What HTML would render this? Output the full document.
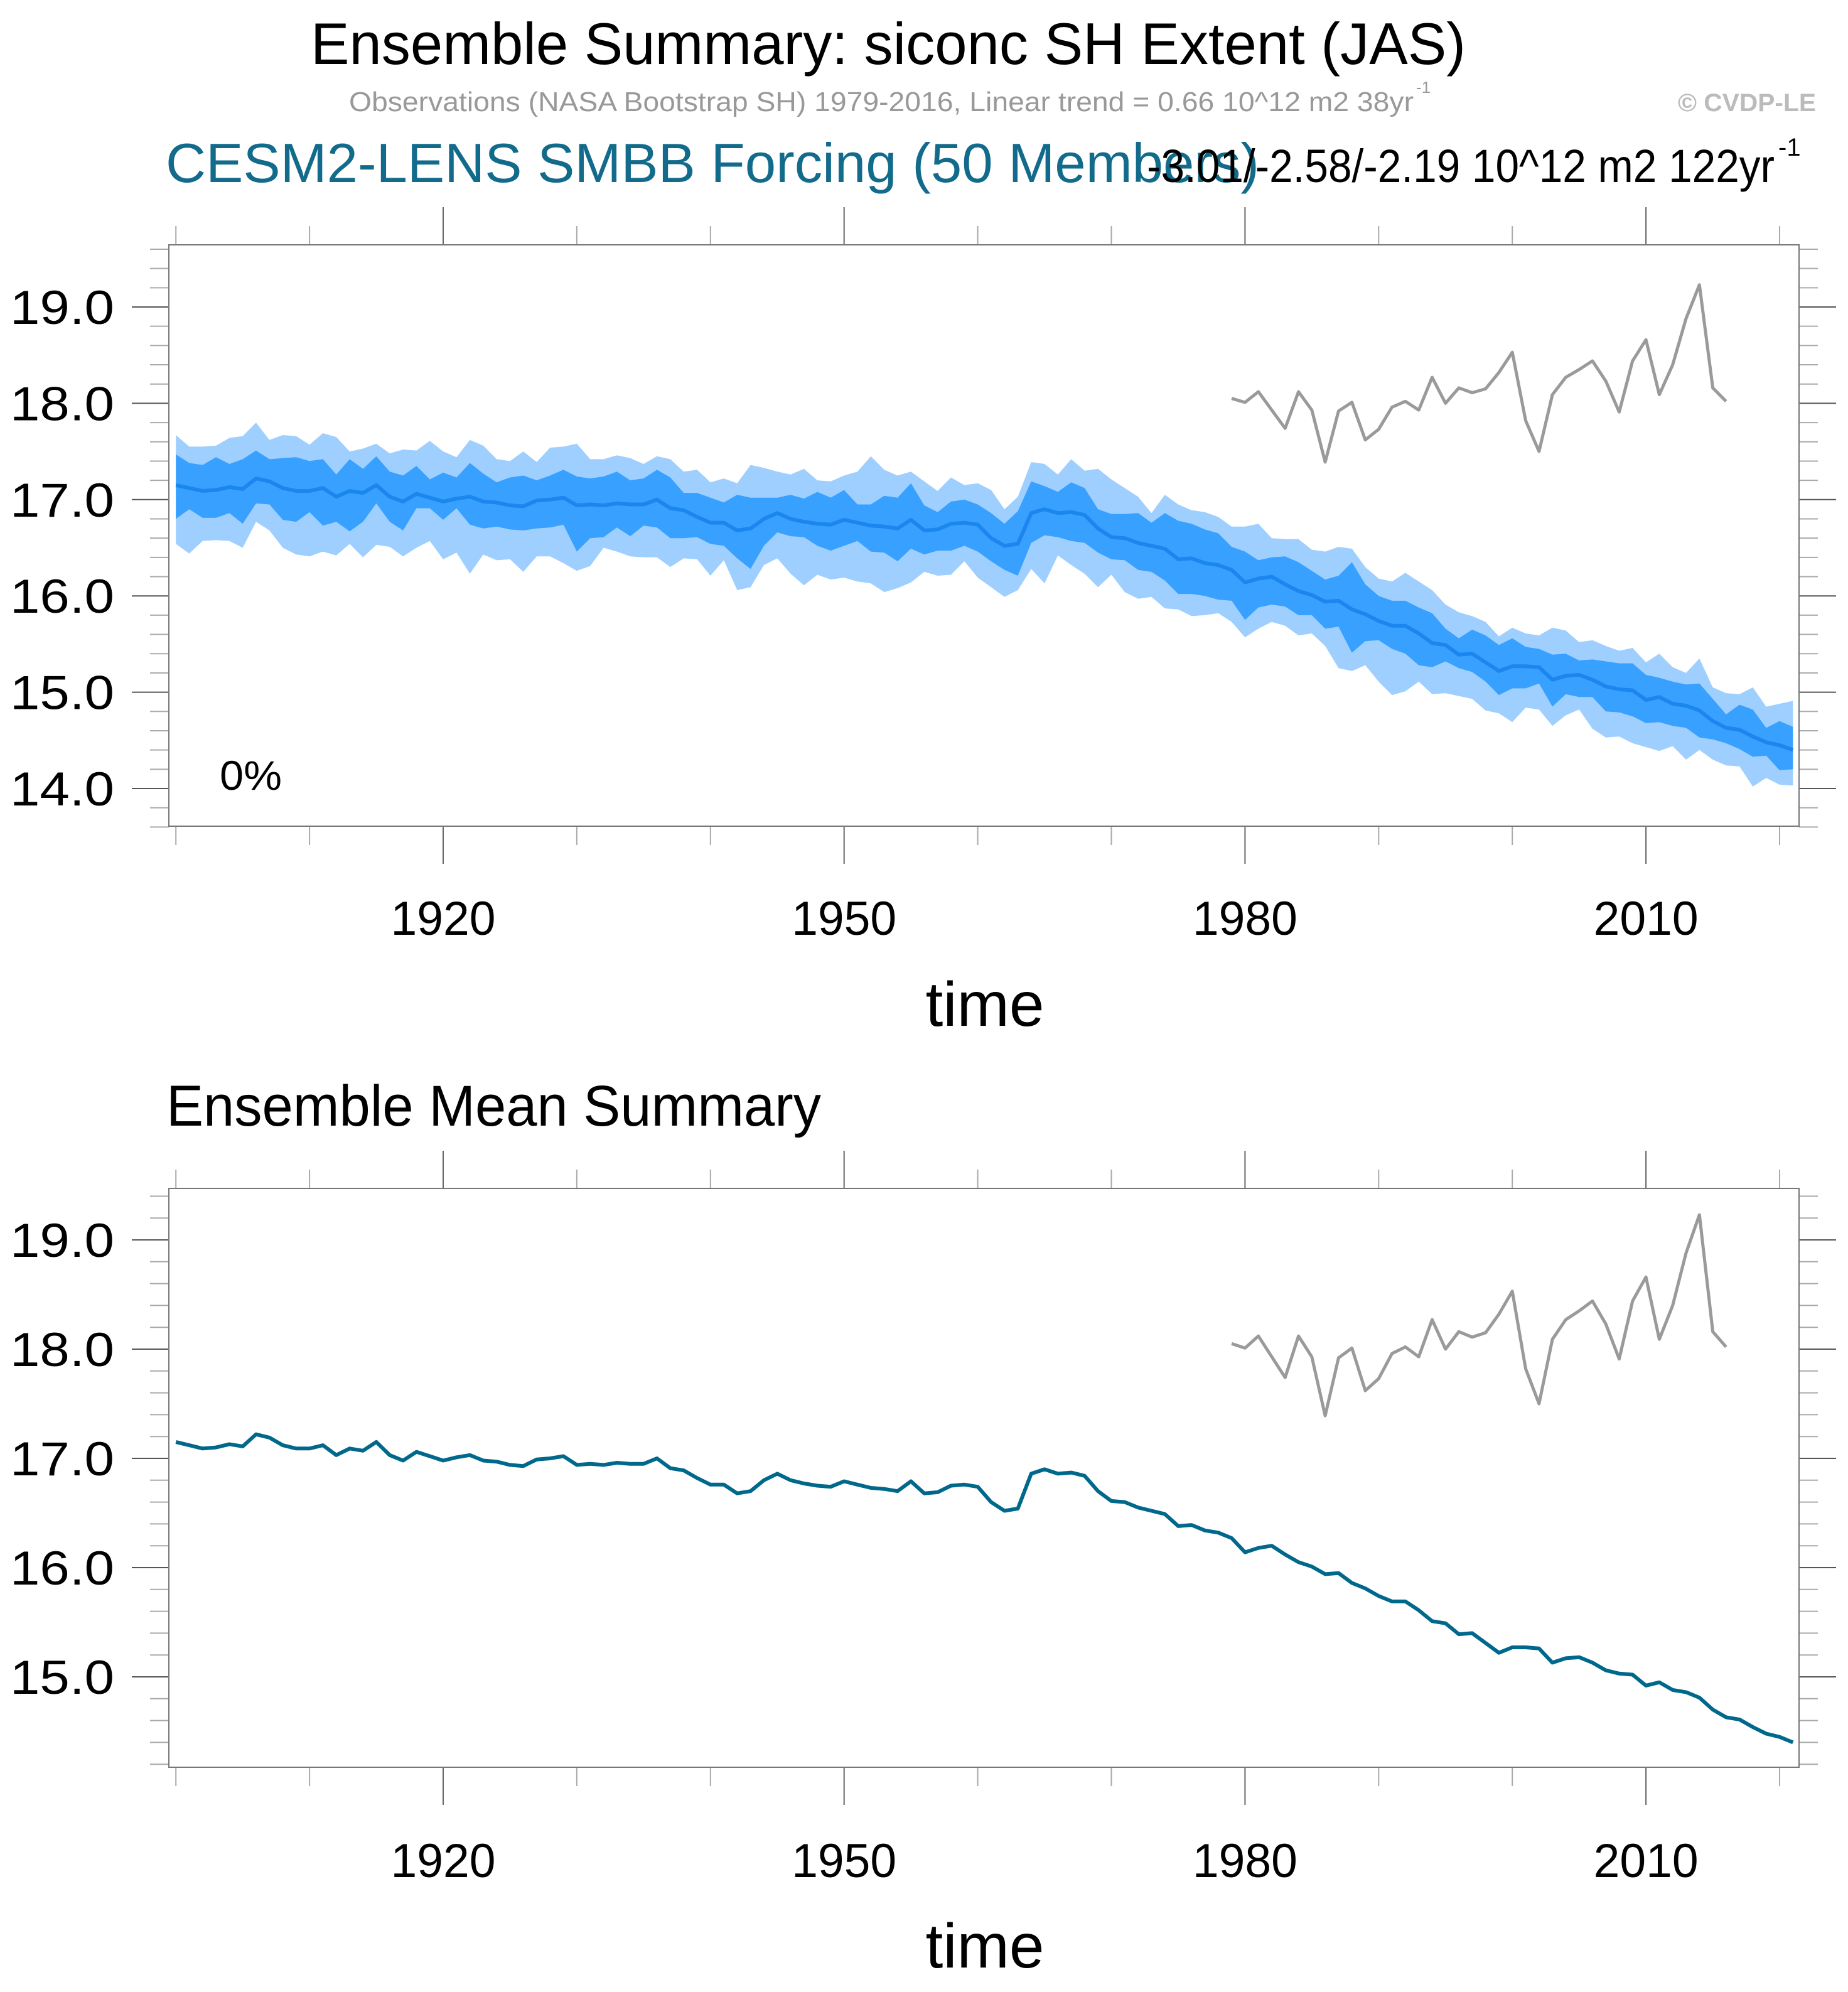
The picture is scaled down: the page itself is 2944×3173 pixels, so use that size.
<!DOCTYPE html>
<html><head><meta charset="utf-8"><style>
html,body{margin:0;padding:0;background:#fff}
svg{display:block}
text{font-family:"Liberation Sans",Arial,sans-serif}
</style></head><body>
<svg id="chart" width="2944" height="3173" viewBox="0 0 2944 3173" xmlns="http://www.w3.org/2000/svg">
<rect x="0" y="0" width="2944" height="3173" fill="#fff"/>
<text x="495" y="102" font-size="94" textLength="1840" lengthAdjust="spacingAndGlyphs" fill="#000">Ensemble Summary: siconc SH Extent (JAS)</text>
<text x="556" y="177" font-size="44" textLength="1696" lengthAdjust="spacingAndGlyphs" fill="#999">Observations (NASA Bootstrap SH) 1979-2016, Linear trend = 0.66 10^12 m2 38yr</text>
<text x="2256" y="148" font-size="26" fill="#999">-1</text>
<text x="2673" y="177" font-size="40" font-weight="bold" textLength="220" lengthAdjust="spacingAndGlyphs" fill="#bbb">© CVDP-LE</text>
<text x="264" y="290" font-size="88" textLength="1742" lengthAdjust="spacingAndGlyphs" fill="#136b8c">CESM2-LENS SMBB Forcing (50 Members)</text>
<text x="1827" y="290" font-size="74" textLength="1000" lengthAdjust="spacingAndGlyphs" fill="#000">-3.01/-2.58/-2.19 10^12 m2 122yr</text>
<text x="2833" y="248" font-size="40" fill="#000">-1</text>
<text x="350" y="1258" font-size="66" textLength="99" lengthAdjust="spacingAndGlyphs" fill="#000">0%</text>
<text x="265" y="1793" font-size="92" textLength="1043" lengthAdjust="spacingAndGlyphs" fill="#000">Ensemble Mean Summary</text>
<text x="1569" y="1634" font-size="100" text-anchor="middle" fill="#000">time</text>
<text x="1569" y="3134" font-size="100" text-anchor="middle" fill="#000">time</text>
<g id="top"></g>
<g id="bot"></g>
</svg>
<script>
const years = []; for (let y = 1900; y <= 2021; y++) years.push(y);
const ensMean = [17.15,17.12,17.09,17.10,17.13,17.11,17.22,17.19,17.12,17.09,
17.09,17.12,17.03,17.09,17.07,17.15,17.03,16.98,17.06,17.02,
16.98,17.01,17.03,16.98,16.97,16.94,16.93,16.99,17.00,17.02,
16.94,16.95,16.94,16.96,16.95,16.95,17.00,16.91,16.89,16.82,
16.76,16.76,16.68,16.70,16.80,16.86,16.80,16.77,16.75,16.74,
16.79,16.76,16.73,16.72,16.70,16.79,16.68,16.69,16.75,16.76,
16.74,16.60,16.52,16.54,16.86,16.90,16.86,16.87,16.84,16.70,
16.61,16.60,16.55,16.52,16.49,16.38,16.39,16.34,16.32,16.27,
16.14,16.18,16.20,16.12,16.05,16.01,15.94,15.95,15.86,15.81,
15.74,15.69,15.69,15.61,15.51,15.49,15.39,15.40,15.31,15.22,
15.27,15.27,15.26,15.13,15.17,15.18,15.13,15.06,15.03,15.02,
14.92,14.95,14.88,14.86,14.81,14.70,14.63,14.61,14.54,14.48,
14.45,14.40];
const bandMax = [17.67,17.55,17.55,17.56,17.64,17.66,17.80,17.62,17.67,17.66,
17.57,17.69,17.65,17.50,17.53,17.58,17.48,17.52,17.51,17.61,
17.50,17.44,17.62,17.56,17.42,17.40,17.50,17.39,17.54,17.55,
17.58,17.42,17.42,17.46,
17.43,17.37,17.45,17.42,17.29,17.31,17.18,17.22,17.17,17.36,
17.33,17.29,17.26,17.32,17.20,17.19,17.25,17.29,17.45,17.31,
17.25,17.29,17.19,17.09,17.23,17.15,17.17,17.10,16.90,17.03,
17.39,17.37,17.26,17.42,17.30,17.32,17.21,17.12,17.03,16.86,
17.05,16.95,16.89,
16.87,16.82,16.72,16.72,16.75,16.60,16.59,16.59,16.48,16.46,
16.51,16.49,16.30,16.18,16.15,16.24,16.15,16.06,15.91,15.83,
15.79,15.73,15.58,15.67,15.61,15.59,15.67,15.64,15.52,15.54,
15.48,15.43,15.46,15.31,15.40,15.26,15.20,15.35,15.05,14.99,
14.98,15.05,14.85,14.88,14.91];
const bandHi = [17.47,17.38,17.36,17.44,17.37,17.42,17.51,17.42,17.43,17.44,
17.40,17.42,17.26,17.42,17.32,17.45,17.29,17.25,17.35,17.21,
17.28,17.23,17.38,17.27,17.18,17.23,17.25,17.20,17.25,17.31,
17.24,17.22,17.24,17.29,
17.20,17.22,17.31,17.23,17.07,17.07,17.02,16.97,17.05,17.02,
17.02,17.02,17.05,17.01,17.08,17.02,17.10,16.95,16.95,17.04,
17.02,17.17,16.94,16.87,16.98,17.00,16.95,16.86,16.75,16.88,
17.19,17.14,17.08,17.18,17.12,16.90,16.85,16.85,16.86,16.76,
16.86,16.78,16.75,
16.69,16.65,16.51,16.46,16.37,16.40,16.41,16.35,16.26,16.17,
16.21,16.35,16.12,16.00,15.95,15.95,15.88,15.82,15.66,15.56,
15.65,15.59,15.49,15.56,15.47,15.45,15.39,15.40,15.33,15.34,
15.32,15.30,15.30,15.18,15.15,15.11,15.08,15.09,14.93,14.77,
14.87,14.82,14.63,14.70,14.64];
const bandLo = [16.80,16.90,16.81,16.81,16.86,16.75,16.96,16.95,16.79,16.77,
16.87,16.73,16.77,16.67,16.77,16.96,16.77,16.68,16.91,16.91,
16.79,16.91,16.74,16.70,16.72,16.69,16.68,16.70,16.71,16.74,
16.46,16.60,16.61,16.71,
16.62,16.73,16.71,16.60,16.60,16.61,16.54,16.52,16.39,16.28,
16.52,16.66,16.62,16.61,16.52,16.47,16.52,16.57,16.46,16.45,
16.36,16.49,16.43,16.47,16.47,16.52,16.46,16.36,16.27,16.21,
16.55,16.63,16.61,16.57,16.55,16.45,16.38,16.37,16.27,16.25,
16.16,16.02,16.02,
16.00,15.96,15.95,15.75,15.88,15.91,15.89,15.80,15.80,15.66,
15.68,15.41,15.53,15.54,15.45,15.40,15.28,15.26,15.32,15.25,
15.21,15.11,14.97,15.04,15.04,15.09,14.85,14.98,14.95,14.95,
14.80,14.79,14.75,14.68,14.69,14.65,14.63,14.53,14.51,14.47,
14.41,14.33,14.34,14.19,14.20];
const bandMin = [16.54,16.44,16.57,16.58,16.57,16.50,16.77,16.68,16.50,16.43,
16.41,16.46,16.42,16.54,16.40,16.53,16.51,16.41,16.50,16.57,
16.38,16.45,16.23,16.43,16.37,16.38,16.25,16.41,16.41,16.34,
16.26,16.31,16.50,16.46,
16.41,16.40,16.40,16.30,16.39,16.38,16.21,16.37,16.06,16.09,
16.32,16.39,16.23,16.11,16.22,16.17,16.19,16.15,16.13,16.04,
16.08,16.14,16.25,16.21,16.22,16.36,16.19,16.09,15.99,16.06,
16.28,16.13,16.42,16.32,16.23,16.09,16.22,16.04,15.97,15.99,
15.87,15.86,15.79,
15.80,15.82,15.73,15.57,15.66,15.73,15.69,15.59,15.61,15.48,
15.25,15.22,15.28,15.11,14.97,15.01,15.11,14.98,14.99,14.96,
14.93,14.81,14.78,14.69,14.84,14.82,14.65,14.76,14.82,14.62,
14.53,14.54,14.47,14.43,14.39,14.44,14.30,14.40,14.30,14.24,
14.23,14.02,14.11,14.04,14.03];
const obsYears = []; for (let y = 1979; y <= 2016; y++) obsYears.push(y);
const obsVals = [18.05,18.01,18.12,17.93,17.74,18.12,17.93,17.39,17.92,18.01,
17.62,17.73,17.96,18.02,17.93,18.27,18.00,18.16,18.11,18.15,
18.32,18.53,17.82,17.50,18.09,18.27,18.35,18.44,18.23,17.91,
18.44,18.66,18.09,18.40,18.88,19.23,18.16,18.02];
const xMajorTicks = [1920,1950,1980,2010];
const xMinorTicks = [1900,1910,1920,1930,1940,1950,1960,1970,1980,1990,2000,2010,2020];
const topYLabels = ["14.0","15.0","16.0","17.0","18.0","19.0"];
const botYLabels = ["15.0","16.0","17.0","18.0","19.0"];

const NS = "http://www.w3.org/2000/svg";
function xs(yr){ return 706 + (yr - 1920) * 21.29; }
function mk(parent, tag, attrs){ const e = document.createElementNS(NS, tag); for (const k in attrs) e.setAttribute(k, attrs[k]); parent.appendChild(e); return e; }
function pts(xArr, vArr, ys){ return xArr.map((x,i)=> xs(x).toFixed(1)+","+ys(vArr[i]).toFixed(1)).join(" "); }
function bandPts(hi, lo, ys){ const a = years.map((x,i)=> xs(x).toFixed(1)+","+ys(hi[i]).toFixed(1)); const b = years.map((x,i)=> xs(x).toFixed(1)+","+ys(lo[i]).toFixed(1)).reverse(); return a.concat(b).join(" "); }

function axes(g, P, ys, yMinT, yMaxT, labels, prefix){
  const L=P.l, R=P.r, T=P.t, B=P.b;
  // y ticks
  for (let k = Math.round(yMinT*5); k <= Math.round(yMaxT*5); k++){
    const v = k/5, y = ys(v), major = (k % 5 === 0);
    const len = major ? 59 : 30, col = major ? "#555" : "#aaa";
    const t1 = mk(g,"line",{x1:L-len,y1:y,x2:L,y2:y,stroke:col,"stroke-width":2});
    
    
    const t2 = mk(g,"line",{x1:R,y1:y,x2:R+len,y2:y,stroke:col,"stroke-width":2});
    
    
  }
  labels.forEach(s=>{
    const t = mk(g,"text",{x:182,y:ys(parseFloat(s))+27,"font-size":76,"text-anchor":"end",textLength:166,lengthAdjust:"spacingAndGlyphs",fill:"#000"});
    t.textContent = s;
    
    
  });
  xMinorTicks.forEach(yr=>{
    const major = xMajorTicks.indexOf(yr) >= 0, len = major ? 60 : 30, col = major ? "#666" : "#aaa";
    const a = mk(g,"line",{x1:xs(yr),y1:T-len,x2:xs(yr),y2:T,stroke:col,"stroke-width":2});
    
    
    const b = mk(g,"line",{x1:xs(yr),y1:B,x2:xs(yr),y2:B+len,stroke:col,"stroke-width":2});
    
    
  });
  xMajorTicks.forEach(yr=>{
    const t = mk(g,"text",{x:xs(yr),y:P.lab,"font-size":76,"text-anchor":"middle",textLength:167,lengthAdjust:"spacingAndGlyphs",fill:"#000"});
    t.textContent = String(yr);
    
    
  });
  const f = mk(g,"rect",{x:L,y:T,width:R-L,height:B-T,fill:"none",stroke:"#777","stroke-width":2});
  
  
}

// top panel
const gT = document.getElementById("top");
const PT = {l:269,r:2866,t:390,b:1316,lab:1489};
function yT(v){ return 489 + (19 - v) * 153.4; }
const lb = mk(gT,"polygon",{points:bandPts(bandMax,bandMin,yT),fill:"#9fcfff"});


const db = mk(gT,"polygon",{points:bandPts(bandHi,bandLo,yT),fill:"#38a0ff"});


const ml = mk(gT,"polyline",{points:pts(years,ensMean,yT),fill:"none",stroke:"#1a86ee","stroke-width":6,"stroke-linejoin":"round"});


const ol = mk(gT,"polyline",{points:pts(obsYears,obsVals,yT),fill:"none",stroke:"#9a9a9a","stroke-width":5,"stroke-linejoin":"round"});


axes(gT, PT, yT, 13.6, 19.6, topYLabels, "top");

// bottom panel
const gB = document.getElementById("bot");
const PB = {l:269,r:2866,t:1893,b:2815,lab:2990};
function yB(v){ return 1975 + (19 - v) * 174; }
const ml2 = mk(gB,"polyline",{points:pts(years,ensMean,yB),fill:"none",stroke:"#00688b","stroke-width":6,"stroke-linejoin":"round"});


const ol2 = mk(gB,"polyline",{points:pts(obsYears,obsVals,yB),fill:"none",stroke:"#9a9a9a","stroke-width":5,"stroke-linejoin":"round"});


axes(gB, PB, yB, 14.2, 19.4, botYLabels, "bottom");
</script>
</body></html>
